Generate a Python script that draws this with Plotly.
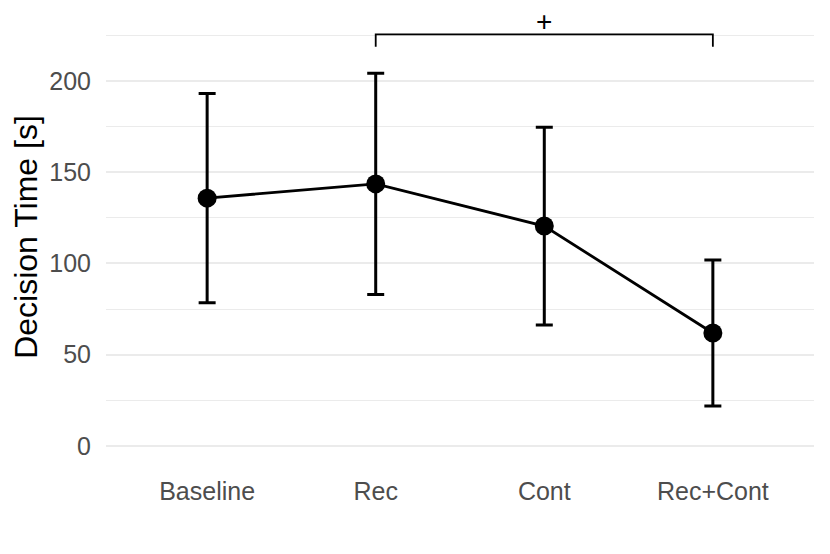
import plotly.graph_objects as go

conditions = ["Baseline", "Rec", "Cont", "Rec+Cont"]
mean_time = [135.8, 143.6, 120.5, 61.9]
err_time = [57.3, 60.6, 54.2, 40.0]

# significance bracket Rec vs Rec+Cont
bracket_x = ["Rec", "Rec", "Rec+Cont", "Rec+Cont"]
bracket_y = [218.8, 225.5, 225.5, 218.8]
bracket_label = "+"

font_family = "Liberation Sans, Arial, sans-serif"

fig = go.Figure()

fig.add_trace(go.Scatter(
    x=bracket_x, y=bracket_y,
    mode="lines",
    line=dict(color="black", width=1.8),
    hoverinfo="skip",
    showlegend=False,
))

fig.add_trace(go.Scatter(
    x=conditions, y=mean_time,
    mode="lines+markers",
    line=dict(color="black", width=2.8),
    marker=dict(color="black", size=19),
    error_y=dict(type="data", array=err_time, visible=True,
                 color="black", thickness=3, width=8.5),
    showlegend=False,
))

fig.add_annotation(
    x=2, y=bracket_y[1], text=bracket_label,
    showarrow=False, yanchor="middle", yshift=13,
    font=dict(size=28, color="black", family=font_family),
)

fig.update_layout(
    width=830, height=554,
    margin=dict(l=106, r=16, t=8, b=88),
    plot_bgcolor="white",
    paper_bgcolor="white",
    font=dict(family=font_family),
    xaxis=dict(
        type="category",
        categoryorder="array",
        categoryarray=conditions,
        range=[-0.6, 3.6],
        showgrid=False,
        zeroline=False,
        showline=False,
        ticks="",
        tickfont=dict(size=25, color="#4d4d4d"),
        ticklabelstandoff=8,
    ),
    yaxis=dict(
        range=[-11, 240],
        tickmode="array",
        tickvals=[0, 50, 100, 150, 200],
        showgrid=True,
        gridcolor="#ebebeb",
        gridwidth=2,
        minor=dict(tickmode="array", tickvals=[25, 75, 125, 175, 225],
                   showgrid=True, gridcolor="#ebebeb", gridwidth=1),
        zeroline=False,
        showline=False,
        ticks="",
        tickfont=dict(size=25, color="#4d4d4d"),
        ticklabelstandoff=14,
        title=dict(text="Decision Time [s]", font=dict(size=32, color="black"),
                   standoff=2),
        automargin=False,
    ),
)

# page has a default body margin; drop it so the figure sits at 0,0
fig.write_html("out.html", config={"displayModeBar": False},
               post_script="document.body.style.margin = '0';")
